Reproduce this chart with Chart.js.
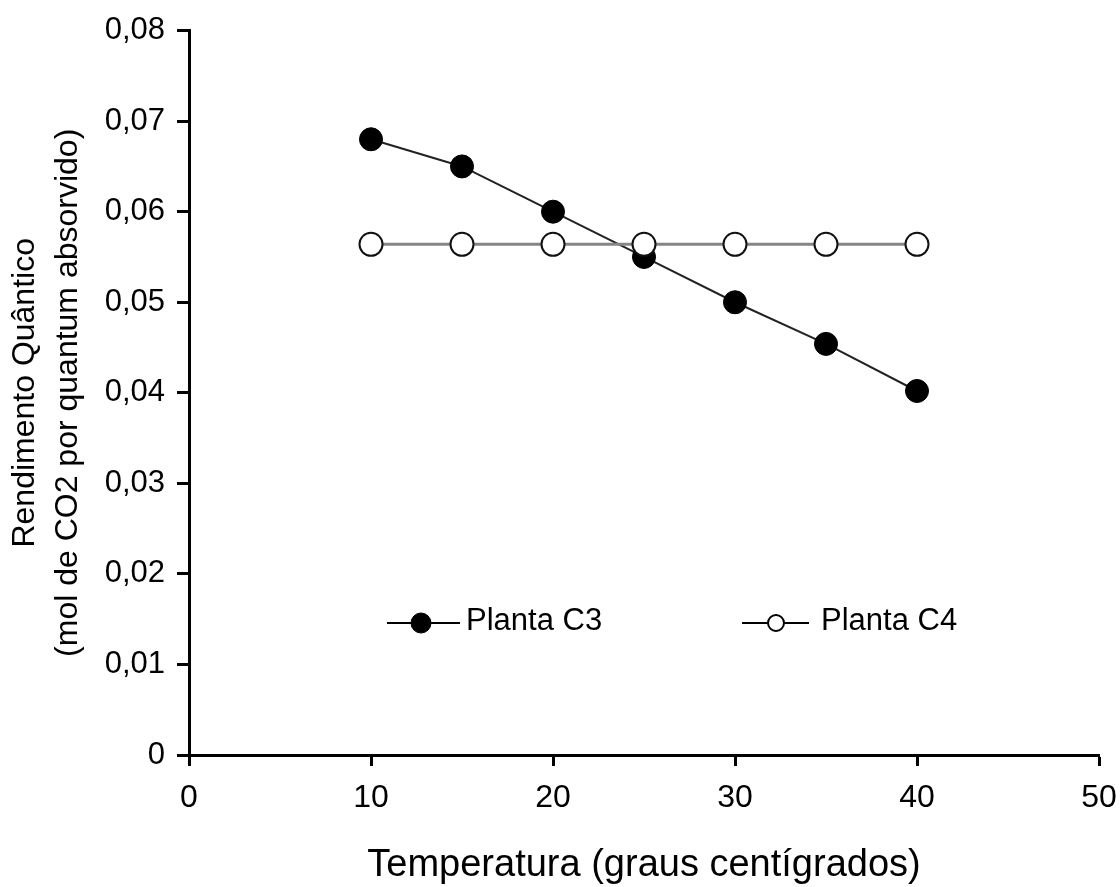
<!DOCTYPE html>
<html>
<head>
<meta charset="utf-8">
<script src="https://cdn.jsdelivr.net/npm/chart.js"></script>
<style>
  body { margin: 0; background: #fff; }
</style>
</head>
<body>
<canvas id="Chart" width="1120" height="887"></canvas>
<script>
// temperatura (graus) e rendimento quantico
const temperaturas = [10, 15, 20, 25, 30, 35, 40];
const plantaC3 = [0.068, 0.065, 0.060, 0.055, 0.050, 0.0454, 0.0402];
const plantaC4 = [0.0564, 0.0564, 0.0564, 0.0564, 0.0564, 0.0564, 0.0564];
const nomes = ["Planta C3", "Planta C4"];
const tituloX = "Temperatura (graus centígrados)";
const tituloY = ["Rendimento Quântico", "(mol de CO2 por quantum absorvido)"];

const FONT = "'Liberation Sans', Arial, sans-serif";

const pontos = (vals) => temperaturas.map((t, i) => ({ x: t, y: vals[i] }));

// legenda desenhada dentro da area do grafico
const legendaPlugin = {
  id: "legendaInterna",
  afterDraw(chart) {
    const ctx = chart.ctx;
    const itens = [
      { x1: 387, x2: 460, mx: 421, tx: 466, fill: "#000" },
      { x1: 742, x2: 809, mx: 776, tx: 821, fill: "#fff" }
    ];
    const y = 623;
    ctx.save();
    itens.forEach((it, i) => {
      ctx.strokeStyle = "#000";
      ctx.lineWidth = 2;
      ctx.beginPath();
      ctx.moveTo(it.x1, y);
      ctx.lineTo(it.x2, y);
      ctx.stroke();
      ctx.beginPath();
      ctx.arc(it.mx, y, i == 0 ? 10 : 8, 0, Math.PI * 2);
      ctx.fillStyle = it.fill;
      ctx.fill();
      ctx.lineWidth = i == 0 ? 1 : 2;
      ctx.stroke();
      ctx.fillStyle = "#000";
      ctx.font = "31px " + FONT;
      ctx.textBaseline = "middle";
      ctx.textAlign = "left";
      ctx.fillText(nomes[i], it.tx, y - 2);
    });
    ctx.restore();
  }
};

new Chart("Chart", {
  type: "line",
  data: {
    datasets: [
      {
        label: nomes[0],
        data: pontos(plantaC3),
        borderColor: "#222",
        borderWidth: 2,
        pointRadius: 11.5,
        pointBackgroundColor: "#000",
        pointBorderColor: "#000",
        pointBorderWidth: 1,
        order: 2
      },
      {
        label: nomes[1],
        data: pontos(plantaC4),
        borderColor: "#858585",
        borderWidth: 3,
        pointRadius: 11.5,
        pointBackgroundColor: "#fff",
        pointBorderColor: "#111",
        pointBorderWidth: 2,
        order: 1
      }
    ]
  },
  options: {
    responsive: false,
    animation: false,
    layout: { padding: { top: 29, right: 21, bottom: 0, left: 0 } },
    plugins: {
      legend: { display: false },
      tooltip: { enabled: false }
    },
    scales: {
      x: {
        type: "linear",
        min: 0,
        max: 50,
        afterFit: (s) => { s.height = 132; s.paddingRight = 0; },
        ticks: { stepSize: 10, color: "#000", padding: 13, font: { family: FONT, size: 32 } },
        grid: { drawOnChartArea: false, drawTicks: true, tickLength: 11, tickWidth: 3, color: "#000" },
        border: { display: true, color: "#000", width: 3 },
        title: {
          display: true,
          text: tituloX,
          color: "#000",
          padding: { top: 0, bottom: 0 },
          font: { family: FONT, size: 38, lineHeight: 1.15 }
        }
      },
      y: {
        min: 0,
        max: 0.08,
        afterFit: (s) => { s.width = 189; },
        ticks: {
          stepSize: 0.01,
          color: "#000",
          padding: 12,
          font: { family: FONT, size: 31 },
          callback: (v) => v == 0 ? "0" : v.toFixed(2).replace(".", ",")
        },
        grid: { drawOnChartArea: false, drawTicks: true, tickLength: 12, tickWidth: 3, color: "#000" },
        border: { display: true, color: "#000", width: 3 },
        title: {
          display: true,
          text: tituloY,
          color: "#000",
          padding: { top: 4, bottom: 0 },
          font: { family: FONT, size: 32, lineHeight: 1.34 }
        }
      }
    }
  },
  plugins: [legendaPlugin]
});
</script>
</body>
</html>
